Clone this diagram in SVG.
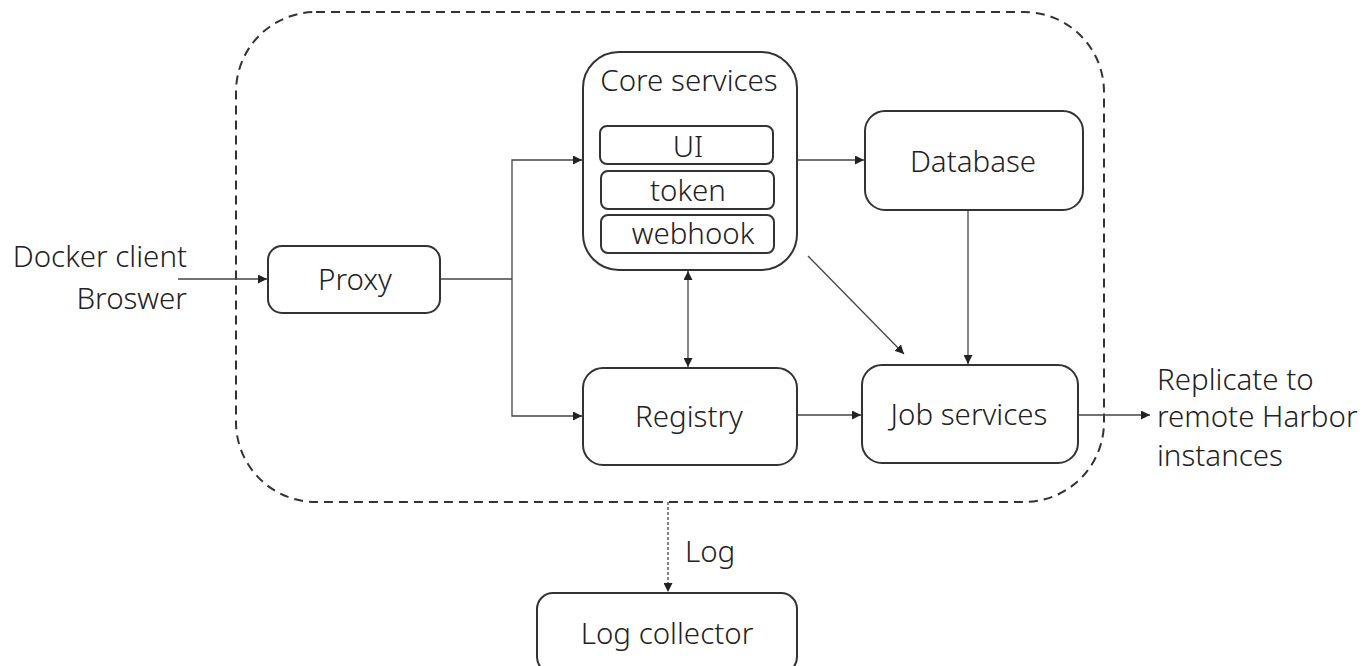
<svg xmlns="http://www.w3.org/2000/svg" width="1362" height="666" viewBox="0 0 1362 666">
<defs>
<marker id="arr" viewBox="0 0 10 10" refX="10" refY="5" markerWidth="9" markerHeight="9" markerUnits="userSpaceOnUse" orient="auto-start-reverse">
<path d="M0,0 L10,5 L0,10 z" fill="#222"/>
</marker>
<style>
.box{fill:#fff;stroke:#333;stroke-width:2}
.sub{fill:#fff;stroke:#333;stroke-width:2}
.t{font-family:"Noto Sans","Open Sans","DejaVu Sans",sans-serif;font-size:29.5px;font-weight:300;fill:#222;text-anchor:middle;dominant-baseline:central}
.c{fill:none;stroke:#444;stroke-width:1.3}
</style>
</defs>
<rect width="1362" height="666" fill="#fff"/>
<g id="container">
<rect x="236" y="12" width="868" height="490" rx="80" ry="80" fill="none" stroke="#333" stroke-width="2" stroke-dasharray="9,6"/>
</g>
<g id="connectors">
<line class="c" x1="178" y1="279" x2="267" y2="279" marker-end="url(#arr)"/>
<polyline class="c" points="440,279 512,279"/>
<polyline class="c" points="582,160 512,160 512,416 582,416" marker-start="url(#arr)" marker-end="url(#arr)"/>
<line class="c" x1="797" y1="160" x2="864" y2="160" marker-end="url(#arr)"/>
<line class="c" x1="688" y1="271" x2="688" y2="367" marker-start="url(#arr)" marker-end="url(#arr)"/>
<line class="c" x1="808" y1="256" x2="904" y2="354" marker-end="url(#arr)"/>
<line class="c" x1="968" y1="210" x2="968" y2="364" marker-end="url(#arr)"/>
<line class="c" x1="797" y1="415" x2="861" y2="415" marker-end="url(#arr)"/>
<line class="c" x1="1078" y1="415" x2="1150" y2="415" marker-end="url(#arr)"/>
<line class="c" x1="668" y1="502" x2="668" y2="592" stroke-dasharray="3,2" marker-end="url(#arr)"/>
</g>
<g id="core">
<rect class="box" x="583" y="52" width="214" height="218" rx="36" ry="36"/>
<text class="t" x="689" y="79">Core services</text>
</g>
<g id="ui">
<rect class="sub" x="600" y="126" width="173" height="38" rx="7" ry="7"/>
<text class="t" x="688" y="145">UI</text>
</g>
<g id="token">
<rect class="sub" x="601" y="171" width="173" height="38" rx="7" ry="7"/>
<text class="t" x="688" y="189">token</text>
</g>
<g id="webhook">
<rect class="sub" x="601" y="215" width="173" height="38" rx="7" ry="7"/>
<text class="t" x="693" y="232">webhook</text>
</g>
<g id="database">
<rect class="box" x="865" y="111" width="218" height="99" rx="20" ry="20"/>
<text class="t" x="973" y="160">Database</text>
</g>
<g id="proxy">
<rect class="box" x="268" y="246" width="172" height="67" rx="14" ry="14"/>
<text class="t" x="355" y="278">Proxy</text>
</g>
<g id="registry">
<rect class="box" x="583" y="368" width="214" height="97" rx="20" ry="20"/>
<text class="t" x="689" y="415">Registry</text>
</g>
<g id="jobservices">
<rect class="box" x="862" y="365" width="216" height="98" rx="20" ry="20"/>
<text class="t" x="969" y="413">Job services</text>
</g>
<g id="logcollector">
<rect class="box" x="537" y="593" width="260" height="80" rx="16" ry="16"/>
<text class="t" x="667" y="632">Log collector</text>
</g>
<g id="labels">
<text class="t" x="187" y="255" style="text-anchor:end">Docker client</text>
<text class="t" x="187" y="297" style="text-anchor:end">Broswer</text>
<text class="t" x="1157" y="378" style="text-anchor:start">Replicate to</text>
<text class="t" x="1157" y="415" style="text-anchor:start">remote Harbor</text>
<text class="t" x="1157" y="454" style="text-anchor:start">instances</text>
<text class="t" x="685" y="550" style="text-anchor:start">Log</text>
</g>
</svg>
